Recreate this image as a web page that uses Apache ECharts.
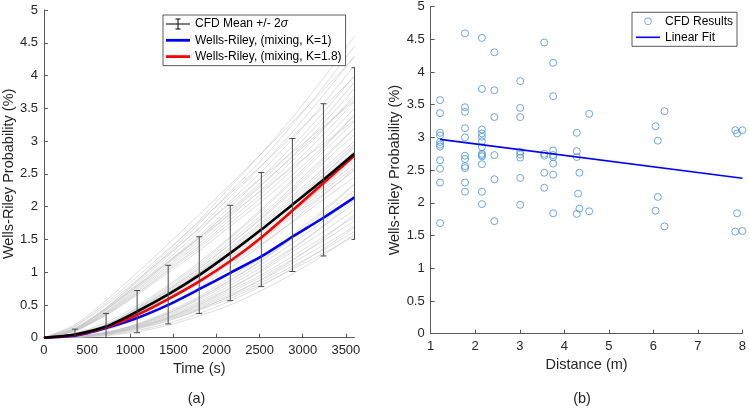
<!DOCTYPE html>
<html><head><meta charset="utf-8">
<script src="https://cdn.jsdelivr.net/npm/echarts@6/dist/echarts.min.js"></script>
<style>html,body{margin:0;padding:0;background:#fff}#c{width:749px;height:409px}</style>
</head><body><div id="c"></div>
<script>
// ---------- Panel (a) data ----------
const timeSec = [0,360,720,1080,1440,1800,2160,2520,2880,3240,3600];
const timeTicks = [0,500,1000,1500,2000,2500,3000,3500];
const cfdMean = [0,0.05,0.17,0.40,0.66,0.955,1.29,1.65,2.03,2.41,2.81];
const wrK1   = [0,0.03,0.148,0.30,0.50,0.74,0.99,1.24,1.54,1.83,2.14];
const wrK18  = [0,0.04,0.16,0.35,0.59,0.86,1.17,1.53,1.94,2.36,2.78];
const errTimes = [360,720,1080,1440,1800,2160,2520,2880,3240,3600];
const errLow  = [-0.03,-0.03,0.076,0.21,0.37,0.565,0.78,1.01,1.247,1.50];
const errHigh = [0.13,0.37,0.72,1.105,1.54,2.02,2.52,3.04,3.57,4.12];
const grayRuns = [
 [0,0.01,0.05,0.14,0.26,0.42,0.60,0.81,1.04,1.29,1.55],
 [0,0.01,0.06,0.15,0.28,0.44,0.63,0.84,1.09,1.34,1.62],
 [0,0.01,0.06,0.15,0.29,0.46,0.66,0.88,1.14,1.41,1.70],
 [0,0.01,0.06,0.16,0.30,0.48,0.69,0.93,1.19,1.48,1.78],
 [0,0.01,0.06,0.17,0.31,0.50,0.72,0.96,1.24,1.54,1.85],
 [0,0.02,0.07,0.18,0.33,0.53,0.76,1.01,1.31,1.62,1.95],
 [0,0.02,0.07,0.18,0.35,0.55,0.80,1.07,1.37,1.70,2.05],
 [0,0.02,0.08,0.19,0.37,0.58,0.84,1.12,1.44,1.78,2.15],
 [0,0.02,0.08,0.20,0.38,0.61,0.88,1.17,1.51,1.87,2.25],
 [0,0.02,0.08,0.21,0.40,0.63,0.92,1.22,1.57,1.95,2.35],
 [0,0.04,0.15,0.34,0.58,0.83,1.13,1.43,1.76,2.11,2.45],
 [0,0.05,0.15,0.36,0.60,0.87,1.17,1.49,1.84,2.19,2.55],
 [0,0.05,0.16,0.36,0.61,0.88,1.20,1.52,1.87,2.24,2.60],
 [0,0.05,0.16,0.37,0.62,0.90,1.22,1.55,1.91,2.28,2.65],
 [0,0.05,0.16,0.38,0.63,0.92,1.24,1.58,1.94,2.32,2.70],
 [0,0.05,0.17,0.39,0.65,0.94,1.27,1.61,1.98,2.37,2.75],
 [0,0.05,0.17,0.39,0.66,0.95,1.29,1.64,2.02,2.41,2.80],
 [0,0.05,0.17,0.40,0.67,0.97,1.31,1.67,2.05,2.45,2.85],
 [0,0.05,0.17,0.41,0.68,0.99,1.33,1.70,2.09,2.49,2.90],
 [0,0.05,0.18,0.41,0.69,1.00,1.36,1.73,2.12,2.54,2.95],
 [0,0.05,0.18,0.42,0.71,1.02,1.38,1.76,2.16,2.58,3.00],
 [0,0.06,0.19,0.43,0.73,1.05,1.43,1.81,2.23,2.67,3.10],
 [0,0.06,0.19,0.45,0.75,1.09,1.47,1.87,2.30,2.75,3.20],
 [0,0.06,0.20,0.46,0.78,1.12,1.52,1.93,2.38,2.84,3.30],
 [0,0.10,0.34,0.65,0.99,1.33,1.70,2.07,2.48,2.92,3.40],
 [0,0.11,0.35,0.67,1.02,1.37,1.75,2.14,2.56,3.01,3.50],
 [0,0.11,0.36,0.68,1.04,1.40,1.80,2.20,2.63,3.10,3.60],
 [0,0.11,0.37,0.70,1.07,1.44,1.85,2.26,2.70,3.18,3.70],
 [0,0.11,0.38,0.72,1.10,1.48,1.90,2.32,2.77,3.27,3.80],
 [0,0.12,0.39,0.74,1.13,1.52,1.95,2.38,2.85,3.35,3.90],
 [0,0.12,0.40,0.76,1.16,1.56,2.00,2.44,2.92,3.44,4.00],
 [0,0.12,0.42,0.79,1.20,1.62,2.08,2.53,3.03,3.57,4.15],
 [0,0.13,0.43,0.82,1.25,1.68,2.15,2.62,3.14,3.70,4.30],
 [0,0.13,0.45,0.85,1.29,1.74,2.23,2.71,3.25,3.83,4.45],
 [0,0.14,0.46,0.87,1.33,1.79,2.30,2.81,3.36,3.96,4.60],
 [0,0.00,0.03,0.09,0.19,0.33,0.50,0.72,0.97,1.26,1.58],
 [0,0.01,0.04,0.11,0.22,0.37,0.56,0.79,1.06,1.36,1.68],
 [0,0.01,0.05,0.13,0.26,0.43,0.64,0.89,1.18,1.51,1.88],
 [0,0.01,0.06,0.16,0.31,0.51,0.75,1.03,1.35,1.71,2.10],
 [0,0.02,0.08,0.20,0.37,0.60,0.87,1.18,1.53,1.92,2.34],
 [0,0.03,0.12,0.29,0.51,0.77,1.07,1.41,1.78,2.17,2.58],
 [0,0.04,0.14,0.33,0.57,0.85,1.17,1.52,1.91,2.32,2.76],
 [0,0.05,0.17,0.38,0.64,0.94,1.28,1.65,2.05,2.48,2.93],
 [0,0.06,0.20,0.44,0.73,1.06,1.43,1.83,2.26,2.72,3.20],
 [0,0.07,0.23,0.49,0.80,1.15,1.54,1.96,2.41,2.89,3.40],
 [0,0.15,0.45,0.80,1.16,1.52,1.88,2.24,2.60,2.96,3.32],
 [0,0.17,0.50,0.88,1.27,1.66,2.05,2.44,2.83,3.22,3.62],
 [0,0.18,0.53,0.93,1.35,1.77,2.20,2.63,3.07,3.52,3.98],
 [0,0.20,0.57,0.99,1.43,1.88,2.34,2.81,3.29,3.78,4.28],
 [0,0.14,0.43,0.78,1.15,1.53,1.93,2.34,2.76,3.20,3.66]
];

// ---------- Panel (b) data ----------
const distM = [
 1.21,1.21,1.21,1.21,1.21,1.21,1.21,1.21,1.21,1.21,1.21,
 1.77,1.77,1.77,1.77,1.77,1.77,1.77,1.77,1.77,1.77,1.77,
 2.15,2.15,2.15,2.15,2.15,2.15,2.15,2.15,2.15,2.15,2.15,2.15,2.15,
 2.43,2.43,2.43,2.43,2.43,2.43,
 3.01,3.01,3.01,3.01,3.01,3.01,3.01,3.01,
 3.55,3.55,3.55,3.55,3.55,
 3.75,3.75,3.75,3.75,3.75,3.75,3.75,3.75,
 4.28,4.28,4.28,4.28,4.31,4.34,4.34,4.56,4.56,
 6.05,6.05,6.10,6.10,6.25,6.25,
 7.84,7.84,7.88,7.88,8.00,8.00
];
const probPct = [
 3.57,3.37,3.07,3.03,2.93,2.89,2.86,2.65,2.52,2.31,1.69,
 4.59,3.46,3.39,3.14,3.00,2.72,2.67,2.56,2.53,2.31,2.17,
 4.52,3.74,3.12,3.06,3.01,2.94,2.85,2.75,2.73,2.71,2.59,2.17,1.98,
 4.30,3.72,3.31,2.73,2.36,1.72,
 3.86,3.45,3.31,2.78,2.74,2.69,2.38,1.97,
 4.45,2.75,2.72,2.46,2.23,
 4.14,3.63,2.80,2.73,2.70,2.60,2.43,1.84,
 3.07,2.79,2.70,1.83,2.14,2.46,1.91,3.36,1.87,
 3.17,1.88,2.95,2.09,3.40,1.64,
 3.11,1.56,3.06,1.84,3.11,1.57
];
const fitX = [1.21, 8.0];
const fitY = [2.97, 2.375];

// ---------- styling ----------
const FONT = "'Liberation Sans', Arial, sans-serif";
const AX = '#5a5a5a';
const TXT = '#262626';
const ERR_NAME = 'CFD Mean +/- 2σ';
const K1_NAME = 'Wells-Riley, (mixing, K=1)';
const K18_NAME = 'Wells-Riley, (mixing, K=1.8)';

const errIcon = 'path://M0,0M24,12M0,5.5h24v1H0zM11.5,0.5h1v11h-1zM9.5,0.5h5v1h-5zM9.5,10.5h5v1h-5z';
const thickIcon = 'path://M0,0M24,12M0,4.6h24v2.8H0z';
const thinIcon = 'path://M0,0M24,12M0,5.2h24v1.6H0z';
const ringIcon = 'path://M0,0M24,12M15.7,6A3.7,3.7,0,1,1,8.3,6A3.7,3.7,0,1,1,15.7,6ZM14.9,6A2.9,2.9,0,1,0,9.1,6A2.9,2.9,0,1,0,14.9,6Z';

function plainLabel(v) { return String(v); }

function valueAxis(gi, min, max, interval, name, gap, extra) {
  return Object.assign({
    type: 'value', gridIndex: gi, min: min, max: max, interval: interval,
    name: name, nameLocation: 'middle', nameGap: gap,
    nameTextStyle: {fontFamily: FONT, fontSize: 14.5, color: TXT},
    axisLine: {show: true, onZero: false, lineStyle: {color: AX, width: 1}},
    axisTick: {show: true, inside: true, length: 4, lineStyle: {color: AX, width: 1}},
    axisLabel: {fontFamily: FONT, fontSize: 13, color: TXT, margin: 6, formatter: plainLabel},
    splitLine: {show: false}
  }, extra || {});
}

const series = [];
grayRuns.forEach(function (run, k) {
  series.push({
    type: 'line', name: 'run' + k, xAxisIndex: 0, yAxisIndex: 0,
    data: timeSec.map(function (t, i) { return [t, run[i]]; }),
    symbol: 'none', smooth: 0.25, silent: true, z: 1,
    lineStyle: {color: '#c6c6c6', width: 0.6}
  });
});
series.push({
  type: 'line', name: K1_NAME, xAxisIndex: 0, yAxisIndex: 0,
  data: timeSec.map(function (t, i) { return [t, wrK1[i]]; }),
  symbol: 'none', smooth: 0.25, z: 3,
  itemStyle: {color: '#0000ff', borderWidth: 0},
  lineStyle: {color: '#0000ff', width: 2.6}
});
series.push({
  type: 'line', name: K18_NAME, xAxisIndex: 0, yAxisIndex: 0,
  data: timeSec.map(function (t, i) { return [t, wrK18[i]]; }),
  symbol: 'none', smooth: 0.25, z: 3,
  itemStyle: {color: '#ff0000', borderWidth: 0},
  lineStyle: {color: '#ff0000', width: 2.6}
});
series.push({
  type: 'line', name: 'mean', xAxisIndex: 0, yAxisIndex: 0,
  data: timeSec.map(function (t, i) { return [t, cfdMean[i]]; }),
  symbol: 'none', smooth: 0.25, z: 4,
  itemStyle: {color: '#000', borderWidth: 0},
  lineStyle: {color: '#000', width: 2.6}
});
series.push({
  type: 'custom', name: ERR_NAME, xAxisIndex: 0, yAxisIndex: 0, z: 5, clip: true,
  itemStyle: {color: '#000'},
  data: errTimes.map(function (t, i) { return [t, errLow[i], errHigh[i]]; }),
  encode: {x: 0, y: [1, 2]},
  renderItem: function (params, api) {
    var x = api.value(0);
    var lo = api.coord([x, api.value(1)]);
    var hi = api.coord([x, api.value(2)]);
    var w = 3;
    var st = {stroke: '#4a4a4a', lineWidth: 1};
    return {type: 'group', children: [
      {type: 'line', shape: {x1: lo[0], y1: lo[1], x2: hi[0], y2: hi[1]}, style: st},
      {type: 'line', shape: {x1: lo[0] - w, y1: lo[1], x2: lo[0] + w, y2: lo[1]}, style: st},
      {type: 'line', shape: {x1: hi[0] - w, y1: hi[1], x2: hi[0] + w, y2: hi[1]}, style: st}
    ]};
  }
});
series.push({
  type: 'scatter', name: 'CFD Results', xAxisIndex: 1, yAxisIndex: 1, z: 3,
  data: distM.map(function (d, i) { return [d, probPct[i]]; }),
  symbol: 'circle', symbolSize: 7,
  itemStyle: {color: 'rgba(0,0,0,0)', borderColor: '#4a94d4', borderWidth: 1}
});
series.push({
  type: 'line', name: 'Linear Fit', xAxisIndex: 1, yAxisIndex: 1, z: 4,
  data: fitX.map(function (x, i) { return [x, fitY[i]]; }),
  symbol: 'none', itemStyle: {color: '#0000ff', borderWidth: 0},
  lineStyle: {color: '#0000ff', width: 1.6}
});

const option = {
  animation: false,
  backgroundColor: '#fff',
  grid: [
    {left: 42, top: 10, width: 312.5, height: 327.7},
    {left: 430.7, top: 6.5, width: 312.3, height: 327.2}
  ],
  xAxis: [
    valueAxis(0, 0, 3600, 500, 'Time (s)', 24, {
      axisLabel: {fontFamily: FONT, fontSize: 13, color: TXT, margin: 6, formatter: plainLabel, customValues: timeTicks},
      axisTick: {show: true, inside: true, length: 4, lineStyle: {color: AX, width: 1}, customValues: timeTicks}
    }),
    valueAxis(1, 1, 8, 1, 'Distance (m)', 24)
  ],
  yAxis: [
    valueAxis(0, 0, 5, 0.5, 'Wells-Riley Probability (%)', 25),
    valueAxis(1, 0, 5, 0.5, 'Wells-Riley Probability (%)', 25)
  ],
  legend: [
    {
      orient: 'vertical', left: 163, top: 15, padding: [3, 4, 3, 3], itemGap: 4.3,
      itemWidth: 24, itemHeight: 12, selectedMode: false,
      backgroundColor: '#fff', borderColor: '#303030', borderWidth: 0.8,
      itemStyle: {borderWidth: 0},
      textStyle: {fontFamily: FONT, fontSize: 12, color: '#000',
        rich: {n: {fontFamily: FONT, fontSize: 12, color: '#000'},
               s: {fontFamily: FONT, fontSize: 12, color: '#000', fontStyle: 'italic'}}},
      formatter: function (name) { return name === ERR_NAME ? '{n|CFD Mean +/- 2}{s|σ}' : name; },
      data: [
        {name: ERR_NAME, icon: errIcon, itemStyle: {color: '#000', borderWidth: 0}},
        {name: K1_NAME, icon: thickIcon, itemStyle: {color: '#0000ff', borderWidth: 0}},
        {name: K18_NAME, icon: thickIcon, itemStyle: {color: '#ff0000', borderWidth: 0}}
      ]
    },
    {
      orient: 'vertical', left: 632, top: 12.3, padding: [3, 4, 3, 4], itemGap: 4,
      itemWidth: 24, itemHeight: 12, selectedMode: false,
      backgroundColor: '#fff', borderColor: '#303030', borderWidth: 0.8,
      itemStyle: {borderWidth: 0},
      textStyle: {fontFamily: FONT, fontSize: 12, color: '#000'},
      data: [
        {name: 'CFD Results', icon: ringIcon, itemStyle: {color: '#4a94d4', borderWidth: 0}},
        {name: 'Linear Fit', icon: thinIcon, itemStyle: {color: '#0000ff', borderWidth: 0}}
      ]
    }
  ],
  graphic: [
    {type: 'text', x: 196.5, y: 399, style: {text: '(a)', font: '14.5px ' + FONT, fill: TXT, textAlign: 'center', textVerticalAlign: 'middle'}},
    {type: 'text', x: 582, y: 399, style: {text: '(b)', font: '14.5px ' + FONT, fill: TXT, textAlign: 'center', textVerticalAlign: 'middle'}}
  ],
  series: series
};

const chart = echarts.init(document.getElementById('c'), null, {renderer: 'canvas'});
chart.setOption(option);
</script></body></html>
